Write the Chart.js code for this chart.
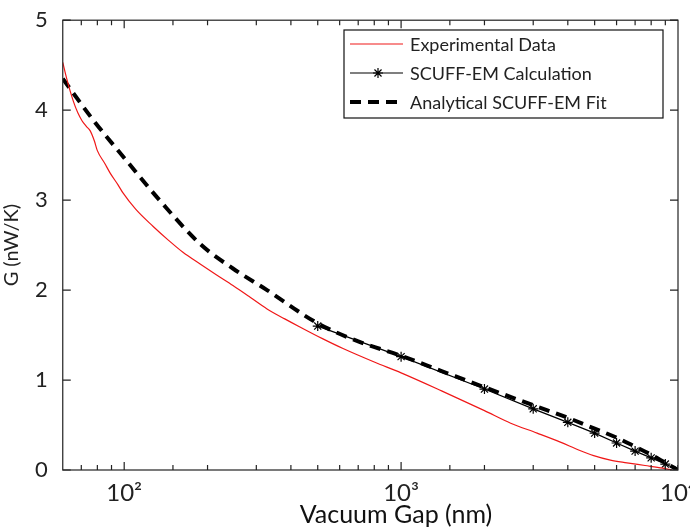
<!DOCTYPE html>
<html>
<head>
<meta charset="utf-8">
<script src="https://cdn.jsdelivr.net/npm/chart.js@4/dist/chart.umd.min.js"></script>
<style>
  html, body { margin: 0; padding: 0; background: #fff; }
  #wrap { width: 690px; height: 527px; }
</style>
</head>
<body>
<div id="wrap"><canvas id="gap_chart"></canvas></div>
<script>
// experimental curve (gap in nm, G in nW/K)
const expGap = [60, 62, 65.5, 68, 70.5, 73, 75.4, 78, 80, 85, 89, 95, 99, 110, 127, 145, 163, 188, 215, 247, 285, 328, 380, 431, 520, 617, 800, 1000, 1400, 2000, 2488, 3100, 3760, 4400, 4960, 5700, 6540, 7600, 8800, 9500];
const expG   = [4.53, 4.35, 4.10, 3.97, 3.88, 3.82, 3.77, 3.66, 3.55, 3.41, 3.30, 3.17, 3.08, 2.90, 2.71, 2.55, 2.42, 2.29, 2.17, 2.05, 1.92, 1.79, 1.68, 1.59, 1.46, 1.35, 1.20, 1.08, 0.88, 0.66, 0.52, 0.41, 0.31, 0.22, 0.16, 0.11, 0.08, 0.05, 0.02, 0.0];

// SCUFF-EM points
const scuffGap = [500, 1000, 2000, 3000, 4000, 5000, 6000, 7000, 8000, 9000, 10000];
const scuffG   = [1.60, 1.26, 0.90, 0.68, 0.53, 0.41, 0.30, 0.21, 0.135, 0.066, 0.0];

// analytical fit
const fitGap = [60, 77.3, 102.5, 135, 190, 247, 328, 500, 700, 1000, 1400, 2000, 3000, 4000, 5000, 6000, 7000, 8000, 9000, 10000];
const fitG   = [4.35, 3.89, 3.43, 2.99, 2.50, 2.24, 2.00, 1.63, 1.43, 1.27, 1.10, 0.92, 0.72, 0.58, 0.46, 0.36, 0.26, 0.17, 0.08, 0.0];

const xLabels = { 100: '10²', 1000: '10³', 10000: '10⁴' };
const legendNames = ['Experimental Data', 'SCUFF-EM Calculation', 'Analytical SCUFF-EM Fit'];
const xTitle = 'Vacuum Gap (nm)';

const FONT = 'Lato, "Open Sans", sans-serif';

function toXY(xs, ys) {
  return xs.map((x, i) => ({ x: x, y: ys[i] }));
}

// matlab-ish inward ticks on all four sides + x label
const boxTicks = {
  id: 'boxTicks',
  afterDatasetsDraw(chart) {
    const c = chart.ctx, a = chart.chartArea;
    const xs = chart.scales.x, ys = chart.scales.y;
    c.save();
    c.strokeStyle = '#222';
    c.lineWidth = 1.2;
    c.strokeRect(a.left, a.top, a.right - a.left, a.bottom - a.top);
    c.beginPath();
    xs.ticks.forEach(t => {
      const px = xs.getPixelForValue(t.value);
      if (px < a.left + 1 || px > a.right - 1) return;
      const len = xLabels[t.value] ? 8 : 5;
      c.moveTo(px, a.bottom); c.lineTo(px, a.bottom - len);
      c.moveTo(px, a.top); c.lineTo(px, a.top + len);
    });
    ys.ticks.forEach(t => {
      const py = ys.getPixelForValue(t.value);
      c.moveTo(a.left, py); c.lineTo(a.left + 8, py);
      c.moveTo(a.right, py); c.lineTo(a.right - 8, py);
    });
    c.stroke();
    // x title sits a bit right of the axes centre in the original
    c.fillStyle = '#111';
    c.font = '25px ' + FONT;
    c.textAlign = 'center';
    c.textBaseline = 'alphabetic';
    c.fillText(xTitle, 396, 523);
    c.restore();
  }
};

// legend box inside the plot, upper right
const boxLegend = {
  id: 'boxLegend',
  afterDraw(chart) {
    const c = chart.ctx;
    const L = 344, T = 30, W = 319, H = 88;
    c.save();
    c.fillStyle = '#fff';
    c.fillRect(L, T, W, H);
    c.strokeStyle = '#111';
    c.lineWidth = 1.2;
    c.strokeRect(L, T, W, H);
    const rows = [44, 73, 102];
    c.font = '18px ' + FONT;
    c.textBaseline = 'middle';
    chart.data.datasets.forEach((ds, i) => {
      const y = rows[i];
      c.beginPath();
      c.strokeStyle = ds.borderColor;
      c.lineWidth = ds.borderWidth;
      c.setLineDash(ds.borderDash || []);
      c.moveTo(350, y); c.lineTo(403, y);
      c.stroke();
      c.setLineDash([]);
      if (ds.pointRadius > 0) {
        Chart.helpers.drawPoint(c, { pointStyle: 'star', radius: 5, borderWidth: 1.2 }, 378, y);
      }
      c.fillStyle = '#222';
      c.fillText(legendNames[i], 410, y + 1);
    });
    c.restore();
  }
};

const ctx = document.getElementById('gap_chart');

new Chart(ctx, {
  type: 'line',
  data: {
    datasets: [
      {
        label: legendNames[0],
        data: toXY(expGap, expG),
        borderColor: '#f01818',
        borderWidth: 1.2,
        pointRadius: 0,
        cubicInterpolationMode: 'monotone'
      },
      {
        label: legendNames[1],
        data: toXY(scuffGap, scuffG),
        borderColor: '#000',
        borderWidth: 1.2,
        pointStyle: 'star',
        pointRadius: 5,
        pointBorderWidth: 1.2,
        pointBorderColor: '#000',
        tension: 0
      },
      {
        label: legendNames[2],
        data: toXY(fitGap, fitG),
        borderColor: '#000',
        borderWidth: 4,
        borderDash: [11, 7],
        pointRadius: 0,
        cubicInterpolationMode: 'monotone'
      }
    ]
  },
  options: {
    responsive: true,
    maintainAspectRatio: false,
    animation: false,
    layout: { padding: { left: 0, right: 12, top: 2, bottom: 19 } },
    plugins: {
      legend: { display: false },
      tooltip: { enabled: false }
    },
    scales: {
      x: {
        type: 'logarithmic',
        min: 60,
        max: 10000,
        grid: { display: false },
        border: { display: false },
        ticks: {
          autoSkip: false,
          maxRotation: 0,
          color: '#222',
          font: { family: FONT, size: 24, lineHeight: 1 },
          padding: 3,
          callback: (v) => xLabels[v] || ''
        },
        afterFit: (s) => { s.paddingRight = 0; s.paddingLeft = 0; }
      },
      y: {
        min: 0,
        max: 5,
        grid: { display: false },
        border: { display: false },
        ticks: {
          stepSize: 1,
          color: '#222',
          font: { family: FONT, size: 22 },
          padding: 7
        },
        title: {
          display: true,
          text: 'G (nW/K)',
          color: '#222',
          font: { family: FONT, size: 20 },
          padding: { top: 0, bottom: 4 }
        }
      }
    }
  },
  plugins: [boxTicks, boxLegend]
});
</script>
</body>
</html>
